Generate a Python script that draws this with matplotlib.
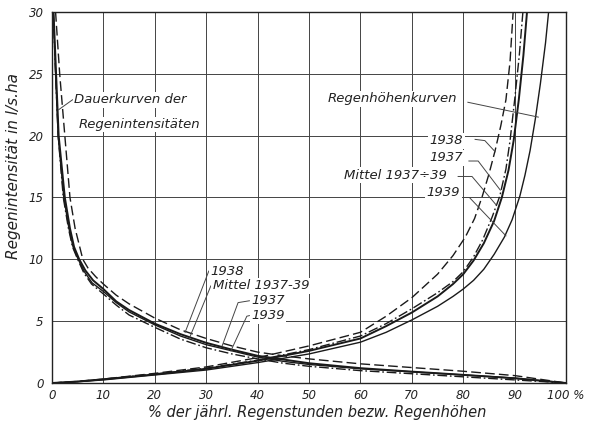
import matplotlib.pyplot as plt

plt.rcParams['font.family'] = 'DejaVu Sans'
plt.rcParams['font.style'] = 'italic'

# Dauerkurven der Regenintensitaeten (fallend)
dx_1938 = [0.7, 1.5, 2.5, 3.5, 4.5, 6.0, 7.0, 8.5, 10, 12.5, 15, 20, 25, 30, 35, 40, 45, 50, 60, 70, 80, 90, 100]
dy_1938 = [30, 25, 20, 15, 12.5, 10, 9.3, 8.6, 8.0, 7.1, 6.4, 5.25, 4.3, 3.6, 3.0, 2.5, 2.2, 1.95, 1.55, 1.25, 0.95, 0.6, 0.0]
dx_mittel = [0.3, 0.8, 1.3, 2.5, 3.5, 4.3, 5.3, 6.5, 8, 10, 12.5, 15, 20, 25, 30, 35, 40, 45, 50, 60, 70, 80, 90, 100]
dy_mittel = [30, 25, 20, 15, 12.5, 11, 10, 9.1, 8.3, 7.6, 6.6, 5.9, 4.8, 3.95, 3.25, 2.7, 2.2, 1.9, 1.6, 1.2, 0.92, 0.66, 0.38, 0.0]
dx_1937 = [0.25, 0.7, 1.2, 2.3, 3.3, 4.1, 5.1, 6.3, 7.8, 10, 12.5, 15, 20, 25, 30, 35, 40, 45, 50, 60, 70, 80, 90, 100]
dy_1937 = [30, 25, 20, 15, 12.5, 11, 10, 9.0, 8.1, 7.4, 6.5, 5.75, 4.7, 3.8, 3.1, 2.6, 2.1, 1.75, 1.5, 1.15, 0.9, 0.65, 0.4, 0.0]
dx_1939 = [0.25, 0.7, 1.2, 2.2, 3.2, 4.0, 5.0, 6.2, 7.7, 10, 12.5, 15, 20, 25, 30, 35, 40, 45, 50, 60, 70, 80, 90, 100]
dy_1939 = [30, 25, 20, 15, 12.5, 11, 10, 8.9, 8.0, 7.2, 6.3, 5.5, 4.5, 3.55, 2.85, 2.35, 1.95, 1.6, 1.35, 1.0, 0.75, 0.5, 0.25, 0.0]

# Regenhoehenkurven (steigend)
hx_1938 = [0, 5, 10, 20, 30, 40, 50, 60, 65, 70, 75, 78, 80.4, 82.2, 83.7, 85, 86.2, 87.3, 88.3, 89.1, 89.7]
hy_1938 = [0, 0.13, 0.32, 0.78, 1.3, 2.05, 3.0, 4.1, 5.4, 6.9, 8.8, 10.3, 11.8, 13.3, 15.1, 16.9, 18.8, 20.8, 22.9, 26.0, 30]
hx_1937 = [0, 5, 10, 20, 30, 40, 50, 60, 65, 70, 75, 78, 80, 82, 83.8, 85.6, 87.1, 88.3, 89.1, 90.0, 90.9, 91.6]
hy_1937 = [0, 0.12, 0.3, 0.72, 1.2, 1.85, 2.7, 3.8, 4.8, 6.0, 7.3, 8.2, 9.0, 10.2, 11.6, 13.4, 15.1, 17.3, 19.6, 22.9, 26.5, 30]
hx_mittel = [0, 5, 10, 20, 30, 40, 50, 60, 65, 70, 75, 78, 80, 82, 84, 86, 87.5, 88.8, 89.8, 90.8, 91.7, 92.4]
hy_mittel = [0, 0.12, 0.3, 0.7, 1.15, 1.8, 2.6, 3.6, 4.6, 5.7, 7.0, 8.0, 8.8, 9.9, 11.3, 13.1, 15.0, 17.2, 19.6, 22.9, 26.5, 30]
hx_1939 = [0, 5, 10, 20, 30, 40, 50, 60, 65, 70, 75, 78, 80, 82, 84, 86, 88, 89.5, 91, 92, 93, 94, 95, 96, 96.6]
hy_1939 = [0, 0.1, 0.25, 0.65, 1.05, 1.65, 2.35, 3.3, 4.1, 5.1, 6.2, 7.0, 7.6, 8.3, 9.2, 10.4, 11.8, 13.2, 15.1, 16.8, 18.8, 21.3, 24.2, 27.5, 30]

xticks = [0, 10, 20, 30, 40, 50, 60, 70, 80, 90, 100]
xticklabels = ['0', '10', '20', '30', '40', '50', '60', '70', '80', '90', '100 %']
yticks = [0, 5, 10, 15, 20, 25, 30]

fig = plt.figure(figsize=(5.94, 4.25), dpi=100)
ax = fig.add_axes([0.0875, 0.0988, 0.8655, 0.873])

k = '#1a1a1a'
dash = (0, (7, 3))
dashdot = (0, (7, 2, 1.2, 2))

ax.plot(dx_1938, dy_1938, color=k, lw=1.0, ls=dash)
ax.plot(dx_mittel, dy_mittel, color=k, lw=1.4)
ax.plot(dx_1937, dy_1937, color=k, lw=1.0)
ax.plot(dx_1939, dy_1939, color=k, lw=1.0, ls=dashdot)

ax.plot(hx_1938, hy_1938, color=k, lw=1.0, ls=dash)
ax.plot(hx_1937, hy_1937, color=k, lw=1.0, ls=dashdot)
ax.plot(hx_mittel, hy_mittel, color=k, lw=1.4)
ax.plot(hx_1939, hy_1939, color=k, lw=1.0)

ax.set_xlim(0, 100)
ax.set_ylim(0, 30)
ax.set_xticks(xticks)
ax.set_xticklabels(xticklabels)
ax.set_yticks(yticks)
ax.tick_params(axis='x', length=0, labelsize=8.5, pad=4, colors='#222222')
ax.tick_params(axis='y', length=0, labelsize=8.5, pad=6, colors='#222222')
ax.grid(True, color='#444444', lw=0.7)
ax.set_axisbelow(True)
for s in ax.spines.values():
    s.set_color('#222222')
    s.set_linewidth(1.0)

ax.set_xlabel('% der jährl. Regenstunden bezw. Regenhöhen', fontsize=10.5, color='#222222')
ax.set_ylabel('Regenintensität in l/s.ha', fontsize=11, color='#222222')
ax.xaxis.set_label_coords(0.515, -0.06)
ax.yaxis.set_label_coords(-0.06, 0.585)

box = dict(facecolor='white', edgecolor='none', pad=1.0)
tk = dict(fontsize=9.5, color='#222222', bbox=box)
lk = dict(color='#444444', lw=0.7)

# Beschriftung links
ax.text(4.3, 22.9, 'Dauerkurven der', va='center', ha='left', **tk)
ax.text(5.2, 20.9, 'Regenintensitäten', va='center', ha='left', **tk)
ax.plot([4.0, 1.3], [22.9, 22.1], **lk)

ax.text(30.9, 9.05, '1938', va='center', ha='left', **tk)
ax.plot([30.5, 25.9], [9.05, 4.1], **lk)
ax.text(31.3, 7.85, 'Mittel 1937-39', va='center', ha='left', **tk)
ax.plot([30.9, 26.8], [7.85, 3.7], **lk)
ax.text(38.8, 6.65, '1937', va='center', ha='left', **tk)
ax.plot([38.4, 36.2, 33.1], [6.65, 6.5, 3.0], **lk)
ax.text(38.8, 5.45, '1939', va='center', ha='left', **tk)
ax.plot([38.4, 37.9, 34.8], [5.45, 5.4, 2.6], **lk)

# Beschriftung rechts
ax.text(53.7, 23.0, 'Regenhöhenkurven', va='center', ha='left', **tk)
ax.plot([80.9, 94.6], [22.7, 21.5], **lk)
ax.text(80.0, 19.6, '1938', va='center', ha='right', **tk)
ax.plot([82.3, 84.2, 86.2], [19.7, 19.6, 18.7], **lk)
ax.text(80.0, 18.2, '1937', va='center', ha='right', **tk)
ax.plot([81.1, 82.9, 87.2], [17.95, 17.95, 15.6], **lk)
ax.text(76.8, 16.8, 'Mittel 1937÷39', va='center', ha='right', **tk)
ax.plot([79.0, 81.7, 86.4], [16.7, 16.7, 14.4], **lk)
ax.text(79.4, 15.4, '1939', va='center', ha='right', **tk)
ax.plot([80.2, 81.2, 88.3], [15.0, 15.0, 11.9], **lk)

fig.savefig('out.png', dpi=100, facecolor='white')
